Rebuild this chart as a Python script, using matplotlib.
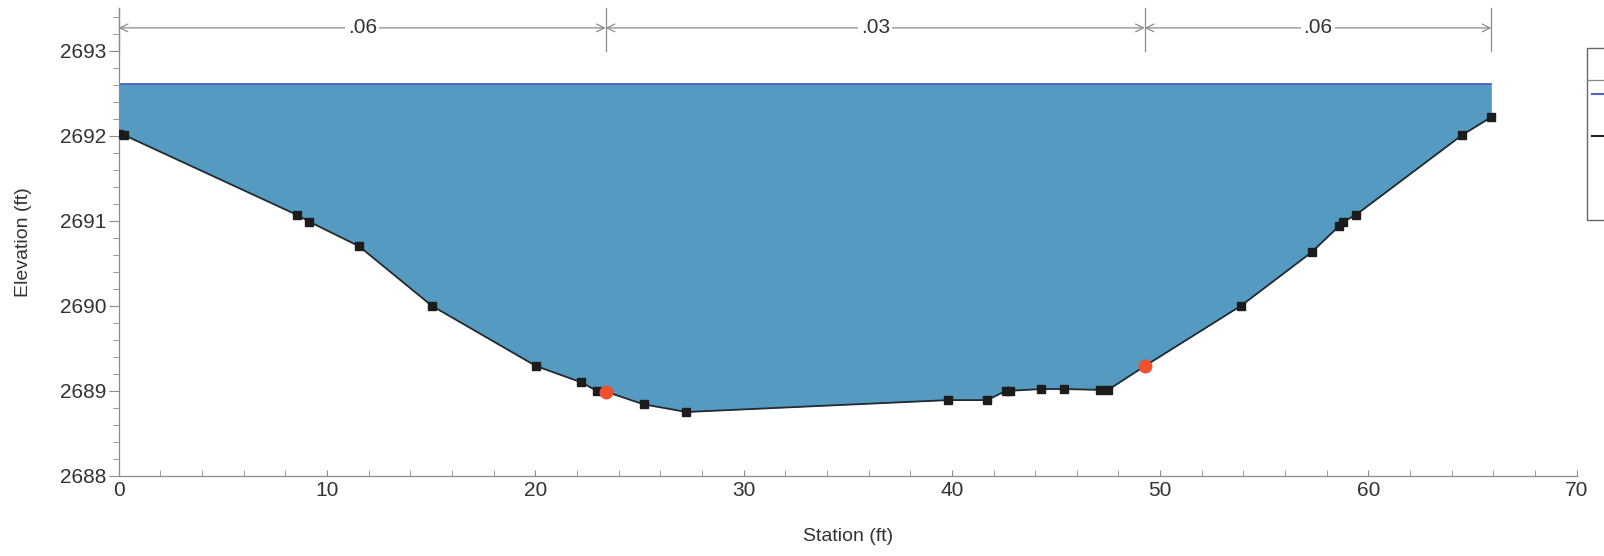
import matplotlib.pyplot as plt
from matplotlib.ticker import MultipleLocator
from matplotlib.patches import Rectangle
from matplotlib.lines import Line2D

plt.rcParams['font.family'] = ['Liberation Sans', 'DejaVu Sans']

# ground profile
station = [0.0, 0.25, 8.55, 9.14, 11.54, 15.03, 20.04, 22.2, 22.94, 25.2, 27.26,
           39.83, 41.7, 42.6, 42.8, 44.3, 45.4, 47.1, 47.5, 53.88, 57.27,
           58.6, 58.8, 59.4, 64.5, 65.9]
elev = [2692.02, 2692.01, 2691.07, 2690.99, 2690.70, 2690.00, 2689.29, 2689.10, 2689.0,
        2688.84, 2688.75, 2688.89, 2688.89, 2689.0, 2689.0, 2689.02, 2689.02, 2689.01,
        2689.01, 2690.0, 2690.63, 2690.94, 2690.99, 2691.07, 2692.01, 2692.22]

# bank stations
bank_sta = [23.38, 49.26]
bank_elev = [2688.99, 2689.29]

ws_elev = 2692.61

# manning's n regions
n_breaks = [0.0, 23.38, 49.26, 65.9]
n_values = ['.06', '.03', '.06']

fig = plt.figure(figsize=(16.04, 5.56), dpi=100)
ax = fig.add_axes([0.074, 0.1444, 0.909, 0.8406])

# full profile including bank points in order
prof = sorted(list(zip(station, elev)) + list(zip(bank_sta, bank_elev)))
px = [p[0] for p in prof]
py = [p[1] for p in prof]

ax.fill_between(px, py, ws_elev, color='#559bc1', zorder=1, linewidth=0)
ax.plot([px[0], px[-1]], [ws_elev, ws_elev], color='#3a4fd0', lw=1.2, zorder=2)
ax.plot(px, py, color='#222a30', lw=1.3, zorder=3)
ax.plot(station, elev, 's', color='#1c1c1c', ms=6, zorder=4)
ax.plot(bank_sta, bank_elev, 'o', color='#f0512d', ms=9, zorder=5)

# n value dimension lines
for xb in n_breaks:
    ax.plot([xb, xb], [2693.0, 2693.5], color='#8c8c8c', lw=0.9, clip_on=False)
for i, lab in enumerate(n_values):
    x1, x2 = n_breaks[i], n_breaks[i + 1]
    ax.annotate('', xy=(x1, 2693.27), xytext=(x2, 2693.27),
                arrowprops=dict(arrowstyle='<->', color='#8c8c8c', lw=0.9,
                                shrinkA=0, shrinkB=0, mutation_scale=14))
    ax.text((x1 + x2) / 2, 2693.27, lab, ha='center', va='center', fontsize=15,
            color='#333333', bbox=dict(facecolor='white', edgecolor='none', pad=2))

ax.set_xlim(0, 70)
ax.set_ylim(2688, 2693.5)
ax.xaxis.set_major_locator(MultipleLocator(10))
ax.xaxis.set_minor_locator(MultipleLocator(2))
ax.yaxis.set_major_locator(MultipleLocator(1))
ax.yaxis.set_minor_locator(MultipleLocator(0.2))
ax.spines['top'].set_visible(False)
ax.spines['right'].set_visible(False)
for s in ['left', 'bottom']:
    ax.spines[s].set_color('#8c8c8c')
    ax.spines[s].set_linewidth(0.9)
ax.tick_params(axis='y', which='major', length=7, color='#8c8c8c', labelsize=15,
               labelcolor='#333333', pad=2)
ax.tick_params(axis='y', which='minor', length=4, color='#8c8c8c')
ax.tick_params(axis='x', which='both', direction='in', length=4, color='#8c8c8c',
               labelsize=15, labelcolor='#333333', pad=4)
ax.set_xlabel('Station (ft)', fontsize=14, color='#333333', labelpad=20)
ax.set_ylabel('Elevation (ft)', fontsize=14, color='#333333', labelpad=20)

# clipped legend box at right edge
fig.patches.append(Rectangle((0.9894, 0.604), 0.05, 0.31, transform=fig.transFigure,
                             facecolor='white', edgecolor='#666666', lw=1.0))
fig.lines.append(Line2D([0.9894, 1.0], [0.856, 0.856], transform=fig.transFigure,
                        color='#888888', lw=0.9))
fig.lines.append(Line2D([0.9928, 1.0], [0.831, 0.831], transform=fig.transFigure,
                        color='#5560c8', lw=1.5))
fig.lines.append(Line2D([0.9928, 1.0], [0.756, 0.756], transform=fig.transFigure,
                        color='#222222', lw=1.5))

fig.savefig('out.png', dpi=100)
